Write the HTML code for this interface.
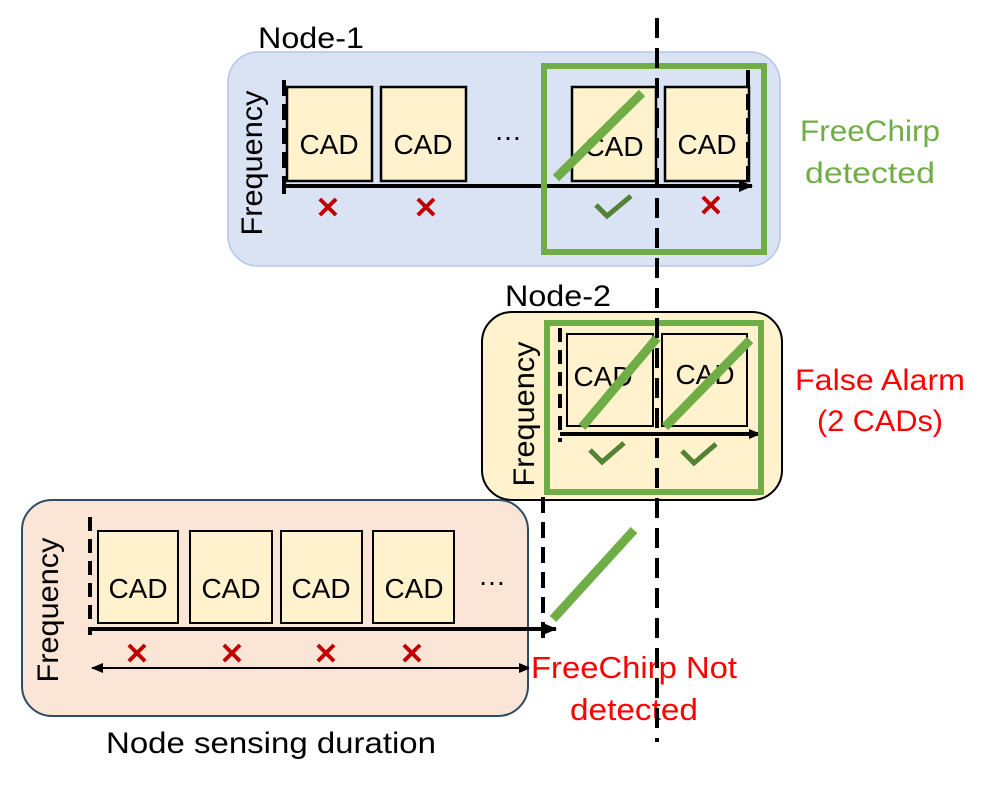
<!DOCTYPE html>
<html><head><meta charset="utf-8"><style>
html,body{margin:0;padding:0;background:#fff}
svg{display:block}
text{font-family:"Liberation Sans",sans-serif}
</style></head><body>
<svg width="997" height="787" viewBox="0 0 997 787" xmlns="http://www.w3.org/2000/svg">
<defs>
<marker id="ah" markerWidth="10" markerHeight="10" refX="9" refY="5" orient="auto" markerUnits="userSpaceOnUse"><path d="M0,0 L12,5 L0,10 z" fill="#000"/></marker>
<marker id="ah2" markerWidth="14" markerHeight="12" refX="13" refY="6" orient="auto" markerUnits="userSpaceOnUse"><path d="M0,0 L14,6 L0,12 z" fill="#000"/></marker>
<marker id="as" markerWidth="12" markerHeight="10" refX="1" refY="5" orient="auto" markerUnits="userSpaceOnUse"><path d="M12,0 L0,5 L12,10 z" fill="#000"/></marker>
</defs>

<!-- Node-1 -->
<text x="258" y="48" font-size="30" textLength="106" lengthAdjust="spacingAndGlyphs">Node-1</text>
<rect x="228" y="52" width="552" height="214" rx="30" fill="#dae3f3" stroke="#b4c7e7" stroke-width="1.5"/>
<text transform="translate(262,163) rotate(-90)" font-size="30" text-anchor="middle" textLength="145" lengthAdjust="spacingAndGlyphs">Frequency</text>
<line x1="284" y1="80" x2="284" y2="192" stroke="#000" stroke-width="4" stroke-dasharray="16,8"/>
<g fill="#fff2cc" stroke="#000" stroke-width="2.5">
<rect x="287" y="87" width="85" height="94"/>
<rect x="381" y="87" width="85" height="94"/>
<rect x="572" y="87" width="84" height="94"/>
<rect x="665" y="87" width="84" height="94"/>
</g>
<line x1="748" y1="70" x2="748" y2="185" stroke="#000" stroke-width="4" stroke-dasharray="16,8"/>
<g font-size="28" text-anchor="middle">
<text x="329" y="154">CAD</text><text x="423" y="154">CAD</text>
<text x="614" y="156">CAD</text><text x="707" y="154">CAD</text>
<text x="508" y="140">…</text>
</g>
<line x1="284" y1="186" x2="752" y2="186" stroke="#000" stroke-width="4" marker-end="url(#ah2)"/>
<line x1="284" y1="178" x2="284" y2="194" stroke="#000" stroke-width="4"/>
<rect x="544" y="66" width="220" height="186" fill="none" stroke="#70ad47" stroke-width="6"/>
<line x1="556" y1="178" x2="642" y2="93" stroke="#70ad47" stroke-width="9"/>
<g font-size="30" fill="#c00000" text-anchor="middle" font-weight="bold">
<text x="328" y="218">✕</text><text x="426" y="218">✕</text><text x="711" y="216">✕</text>
</g>
<path d="M596,205 L607,216 L631,196" fill="none" stroke="#548235" stroke-width="5"/>
<text x="870" y="141" font-size="30" fill="#70ad47" text-anchor="middle" textLength="140" lengthAdjust="spacingAndGlyphs">FreeChirp</text>
<text x="870" y="183" font-size="30" fill="#70ad47" text-anchor="middle" textLength="130" lengthAdjust="spacingAndGlyphs">detected</text>

<!-- Node-2 -->
<text x="505" y="306" font-size="30" textLength="106" lengthAdjust="spacingAndGlyphs">Node-2</text>
<rect x="482" y="312" width="300" height="188" rx="30" fill="#fff2cc" stroke="#000" stroke-width="2"/>
<text transform="translate(534,414) rotate(-90)" font-size="30" text-anchor="middle" textLength="145" lengthAdjust="spacingAndGlyphs">Frequency</text>
<line x1="560" y1="328" x2="560" y2="442" stroke="#000" stroke-width="4" stroke-dasharray="14,8"/>
<g fill="#fff2cc" stroke="#000" stroke-width="2">
<rect x="567" y="334" width="86" height="92"/>
<rect x="662" y="334" width="85" height="92"/>
</g>
<g font-size="28" text-anchor="middle"><text x="603" y="386">CAD</text><text x="705" y="384">CAD</text></g>
<line x1="560" y1="434" x2="758" y2="434" stroke="#000" stroke-width="4" marker-end="url(#ah)"/>
<rect x="547" y="323" width="214" height="169" fill="none" stroke="#70ad47" stroke-width="6"/>
<line x1="582" y1="427" x2="657" y2="338" stroke="#70ad47" stroke-width="9"/>
<line x1="665" y1="427" x2="750" y2="340" stroke="#70ad47" stroke-width="9"/>
<path d="M590,450 L602,462 L624,443" fill="none" stroke="#548235" stroke-width="5"/>
<path d="M682,451 L694,463 L716,444" fill="none" stroke="#548235" stroke-width="5"/>
<text x="880" y="390" font-size="30" fill="#ff0000" text-anchor="middle" textLength="170" lengthAdjust="spacingAndGlyphs">False Alarm</text>
<text x="880" y="431" font-size="30" fill="#ff0000" text-anchor="middle" textLength="126" lengthAdjust="spacingAndGlyphs">(2 CADs)</text>

<!-- Node-3 -->
<rect x="22" y="500" width="506" height="216" rx="30" fill="#fbe5d6" stroke="#2f4b66" stroke-width="2"/>
<text transform="translate(58,610) rotate(-90)" font-size="30" text-anchor="middle" textLength="145" lengthAdjust="spacingAndGlyphs">Frequency</text>
<line x1="90" y1="517" x2="90" y2="635" stroke="#000" stroke-width="4" stroke-dasharray="14,8"/>
<g fill="#fff2cc" stroke="#000" stroke-width="2">
<rect x="98" y="531" width="80" height="92"/>
<rect x="190" y="531" width="82" height="92"/>
<rect x="281" y="531" width="81" height="92"/>
<rect x="373" y="531" width="81" height="92"/>
</g>
<g font-size="28" text-anchor="middle">
<text x="138" y="598">CAD</text><text x="231" y="598">CAD</text>
<text x="321" y="598">CAD</text><text x="414" y="598">CAD</text>
<text x="492" y="585">…</text>
</g>
<line x1="90" y1="629" x2="556" y2="629" stroke="#000" stroke-width="4" marker-end="url(#ah2)"/>
<line x1="543" y1="497" x2="543" y2="640" stroke="#000" stroke-width="4" stroke-dasharray="16,9"/>
<line x1="553" y1="619" x2="634" y2="530" stroke="#70ad47" stroke-width="9"/>
<g font-size="30" fill="#c00000" text-anchor="middle" font-weight="bold">
<text x="137" y="664">✕</text><text x="232" y="664">✕</text><text x="326" y="664">✕</text><text x="412" y="664">✕</text>
</g>
<line x1="92" y1="668" x2="528" y2="668" stroke="#000" stroke-width="2" marker-start="url(#as)" marker-end="url(#ah)"/>
<text x="634" y="678" font-size="31" fill="#ff0000" text-anchor="middle" textLength="206" lengthAdjust="spacingAndGlyphs">FreeChirp Not</text>
<text x="634" y="720" font-size="31" fill="#ff0000" text-anchor="middle" textLength="128" lengthAdjust="spacingAndGlyphs">detected</text>
<text x="271" y="753" font-size="30" text-anchor="middle" textLength="330" lengthAdjust="spacingAndGlyphs">Node sensing duration</text>

<!-- main dashed line -->
<line x1="657" y1="18" x2="657" y2="742" stroke="#000" stroke-width="4" stroke-dasharray="20,10"/>
</svg>
</body></html>
